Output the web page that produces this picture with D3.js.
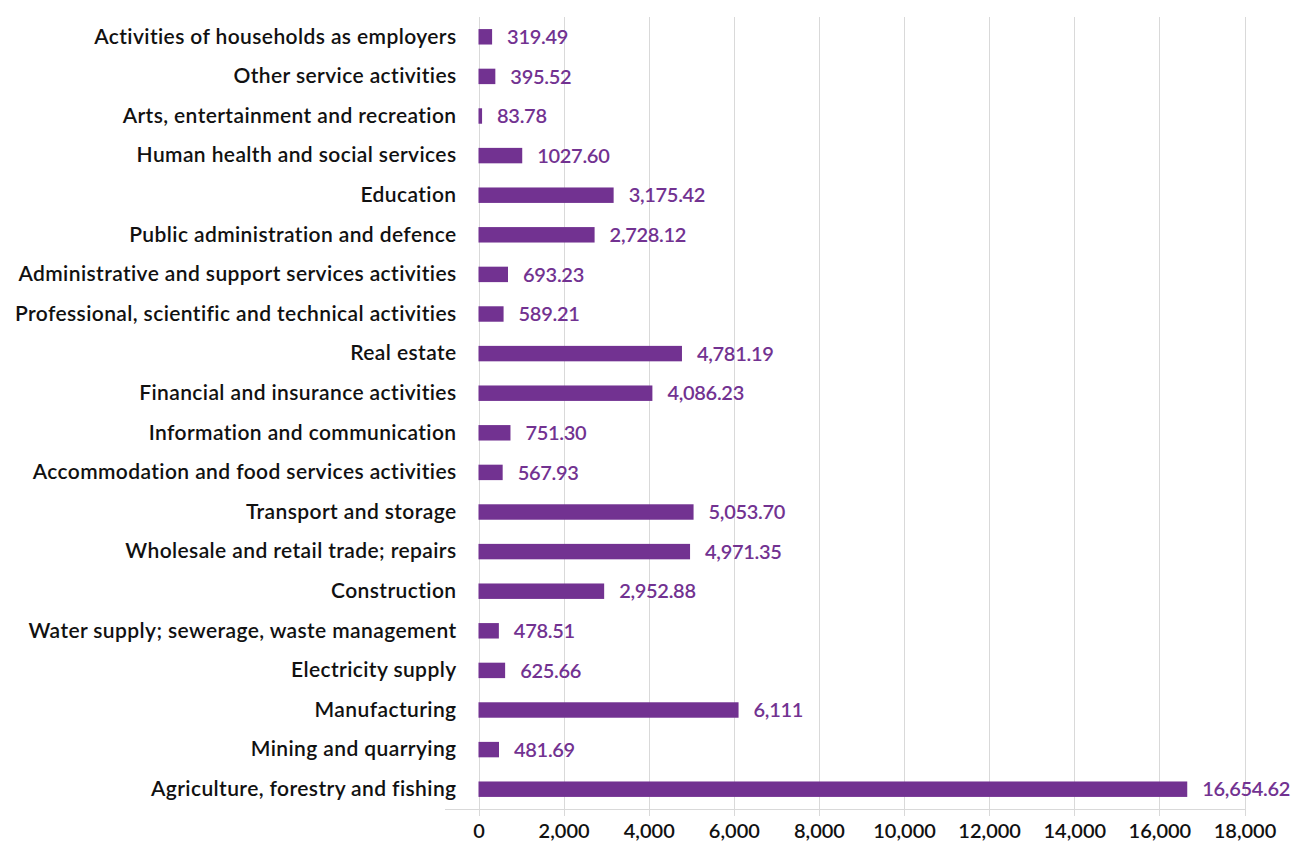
<!DOCTYPE html>
<html>
<head>
<meta charset="utf-8">
<script src="https://cdn.jsdelivr.net/npm/d3@7"></script>
<style>
  html, body { margin: 0; padding: 0; background: #ffffff; }
  svg { display: block; }
  text { font-family: Lato, "Open Sans", sans-serif; }
</style>
</head>
<body>
<svg id="chart" width="1292" height="845"></svg>
<script>
// Sectors, listed top to bottom
const categories = [
  "Activities of households as employers",
  "Other service activities",
  "Arts, entertainment and recreation",
  "Human health and social services",
  "Education",
  "Public administration and defence",
  "Administrative and support services activities",
  "Professional, scientific and technical activities",
  "Real estate",
  "Financial and insurance activities",
  "Information and communication",
  "Accommodation and food services activities",
  "Transport and storage",
  "Wholesale and retail trade; repairs",
  "Construction",
  "Water supply; sewerage, waste management",
  "Electricity supply",
  "Manufacturing",
  "Mining and quarrying",
  "Agriculture, forestry and fishing"
];

const values = [
  319.49, 395.52, 83.78, 1027.60, 3175.42, 2728.12, 693.23, 589.21,
  4781.19, 4086.23, 751.30, 567.93, 5053.70, 4971.35, 2952.88,
  478.51, 625.66, 6111, 481.69, 16654.62
];

// Value labels as printed next to each bar
const valueLabels = [
  "319.49", "395.52", "83.78", "1027.60", "3,175.42", "2,728.12", "693.23", "589.21",
  "4,781.19", "4,086.23", "751.30", "567.93", "5,053.70", "4,971.35", "2,952.88",
  "478.51", "625.66", "6,111", "481.69", "16,654.62"
];

const xTicks = [0, 2000, 4000, 6000, 8000, 10000, 12000, 14000, 16000, 18000];

const svg = d3.select("#chart");
const margin = { left: 478.5, right: 47.5, top: 17, bottom: 36 };
const W = 1292, H = 845;
const plotBottom = H - margin.bottom;

const x = d3.scaleLinear().domain([0, 18000]).range([margin.left, W - margin.right]);
const y = d3.scaleBand().domain(categories).range([margin.top, plotBottom]).paddingInner(0.61).paddingOuter(0.305);

const barColor = "#723291";
const gridColor = "#d9d9d9";

// Vertical gridlines (extend slightly below the baseline as tick marks)
svg.append("g")
  .selectAll("line")
  .data(xTicks)
  .join("line")
  .attr("x1", d => Math.round(x(d)) + 0.5)
  .attr("x2", d => Math.round(x(d)) + 0.5)
  .attr("y1", margin.top)
  .attr("y2", plotBottom + 7)
  .attr("stroke", gridColor)
  .attr("stroke-width", 1);

// Baseline
svg.append("line")
  .attr("x1", 445)
  .attr("x2", x(18000) + 1)
  .attr("y1", plotBottom + 0.5)
  .attr("y2", plotBottom + 0.5)
  .attr("stroke", gridColor)
  .attr("stroke-width", 1);

// X axis tick labels
const xAxis = d3.axisBottom(x).tickValues(xTicks).tickSize(0).tickPadding(15)
  .tickFormat(d3.format(","));
const gx = svg.append("g").attr("transform", `translate(0,${plotBottom})`).call(xAxis);
gx.select(".domain").remove();
gx.selectAll("text")
  .attr("font-family", "Lato, 'Open Sans', sans-serif")
  .attr("font-size", 20)
  .attr("font-weight", 600)
  .attr("fill", "#111111");

// Category labels
const yAxis = d3.axisLeft(y).tickSize(0).tickPadding(22);
const gy = svg.append("g").attr("transform", `translate(${margin.left},0)`).call(yAxis);
gy.select(".domain").remove();
gy.selectAll("text")
  .attr("font-family", "Lato, 'Open Sans', sans-serif")
  .attr("font-size", 21)
  .attr("font-weight", 600)
  .attr("letter-spacing", 0.4)
  .attr("fill", "#111111");

// Bars
svg.append("g")
  .selectAll("rect")
  .data(categories)
  .join("rect")
  .attr("x", x(0))
  .attr("y", d => y(d))
  .attr("width", (d, i) => x(values[i]) - x(0))
  .attr("height", y.bandwidth())
  .attr("fill", barColor);

// Value labels
svg.append("g")
  .selectAll("text")
  .data(categories)
  .join("text")
  .attr("x", (d, i) => x(values[i]) + 15)
  .attr("y", d => y(d) + y.bandwidth() / 2)
  .attr("dy", "0.36em")
  .attr("font-size", 20)
  .attr("font-weight", 600)
  .attr("letter-spacing", -0.3)
  .attr("fill", barColor)
  .text((d, i) => valueLabels[i]);
</script>
</body>
</html>
